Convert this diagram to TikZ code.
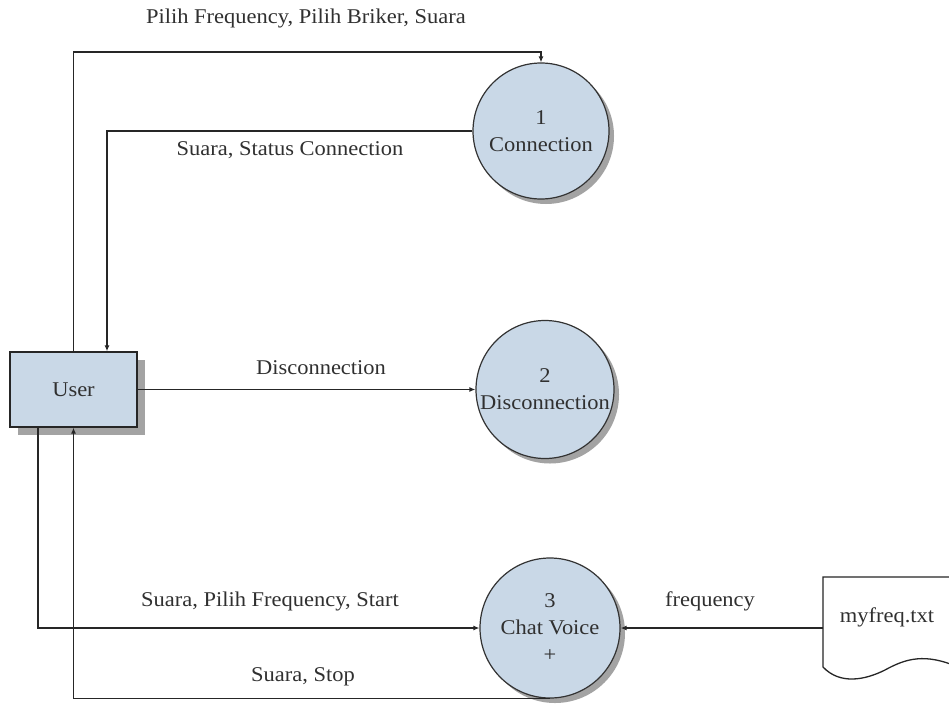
\documentclass[tikz,border=0pt]{standalone}
\usepackage{fontspec}
\setmainfont{Liberation Serif}[FakeStretch=1.07]
\usetikzlibrary{arrows.meta,shadows}
\definecolor{procfill}{HTML}{C9D8E7}
\definecolor{shadowgray}{HTML}{A3A3A3}
\definecolor{txt}{HTML}{303030}
\tikzset{
  flow/.style={draw=black!85, line width=1.3pt, -{Latex[length=6pt,width=5pt]}},
  proc/.style={circle, draw=black!80, line width=1.2pt, fill=procfill, minimum size=136pt, inner sep=0pt, align=center, text=txt,
    general shadow={shadow xshift=5pt, shadow yshift=-5pt, fill=shadowgray, draw=none}},
  userbox/.style={rectangle, draw=black!85, line width=1.3pt, fill=procfill, minimum width=127pt, minimum height=75pt, text=txt,
    general shadow={shadow xshift=8pt, shadow yshift=-8pt, fill=shadowgray, draw=none}},
  lbl/.style={text=txt, inner sep=0pt}
}
\begin{document}
\begin{tikzpicture}[x=1pt,y=-1pt, font=\fontsize{21}{27}\selectfont]
\useasboundingbox (0,0) rectangle (949,707);
\clip (0,0) rectangle (949,707);
\fill[white] (0,0) rectangle (949,707);

% nodes
\node[userbox] (user) at (73.5,389.5) {User};
\node[proc] (p1) at (541,131) {1\\Connection};
\node[proc, minimum size=138pt] (p2) at (545,389.5) {2\\Disconnection};
\node[proc, minimum size=140pt] (p3) at (550,628) {3\\Chat Voice\\+};

% data store document
\draw[black!85, line width=1.3pt, fill=white]
  (823,667) -- (823,577) -- (960,577) -- (960,668)
  .. controls (925,652) and (905,659) .. (885,670)
  .. controls (865,680) and (840,685) .. (823,667) -- cycle;
\node[lbl] (doc) at (887,617) {myfreq.txt};
\coordinate (docL) at (823,628);

% connectors
\coordinate (t1) at (541,52);
\draw[flow] (user.north) |- (t1) -- (p1.north);
\draw[flow] (p1.west) -| ([xshift=33.5pt]user.north);
\draw[flow] (user.east) -- (p2.west);
\draw[flow] ([xshift=-35.5pt]user.south) |- (p3.west);
\draw[flow] (p3.south) -| (user.south);
\draw[flow] (docL) -- (p3.east);

% labels
\node[lbl] (l1) at (306,18) {Pilih Frequency, Pilih Briker, Suara};
\node[lbl] (l2) at (290,150) {Suara, Status Connection};
\node[lbl] (l3) at (321,368) {Disconnection};
\node[lbl] (l4) at (270,601) {Suara, Pilih Frequency, Start};
\node[lbl] (l5) at (303,677) {Suara, Stop};
\node[lbl] (l6) at (710,601) {frequency};
\end{tikzpicture}
\end{document}
